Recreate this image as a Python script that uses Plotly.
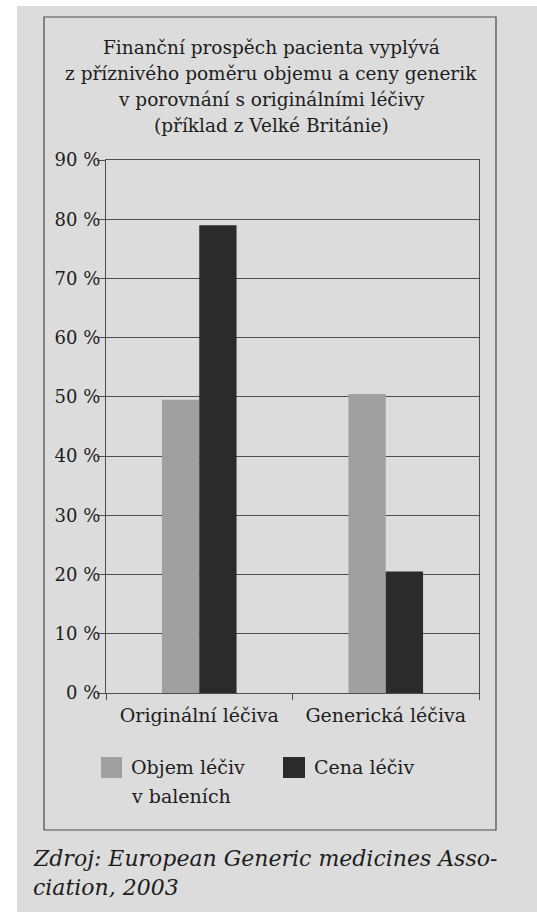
import plotly.graph_objects as go

# Data
categories = ["Originální léčiva", "Generická léčiva"]
objem = [49.5, 50.5]      # Objem léčiv v baleních (%)
cena = [79, 20.5]         # Cena léčiv (%)
y_ticks = [0, 10, 20, 30, 40, 50, 60, 70, 80, 90]
y_tick_labels = [f"{v} %" for v in y_ticks]

title_lines = [
    "Finanční prospěch pacienta vyplývá",
    "z příznivého poměru objemu a ceny generik",
    "v porovnání s originálními léčivy",
    "(příklad z Velké Británie)",
]
legend_names = [["Objem léčiv", "v baleních"], ["Cena léčiv"]]
source_lines = ["Zdroj: European Generic medicines Asso-", "ciation, 2003"]

W, H = 537, 912
PL, PR, PT, PB = 106, 479, 160, 693  # plot area in pixels

LIGHT = "#a0a0a0"
DARK = "#2b2b2b"
PAGE = "#dcdcdc"
INK = "#1c1c1c"
LINE = "#4e4e4e"
SERIF = "DejaVu Serif"


def fx(x):
    return (x - PL) / (PR - PL)


def fy(y):
    return (PB - y) / (PB - PT)


fig = go.Figure()
fig.add_trace(go.Bar(x=categories, y=objem, name="Objem léčiv v baleních",
                     marker=dict(color=LIGHT, line=dict(width=0))))
fig.add_trace(go.Bar(x=categories, y=cena, name="Cena léčiv",
                     marker=dict(color=DARK, line=dict(width=0))))

shapes = [
    # page
    dict(type="rect", xref="paper", yref="paper", x0=fx(17), x1=fx(W + 5),
         y0=fy(H + 5), y1=fy(6), fillcolor=PAGE, line=dict(width=0), layer="below"),
    # frame around the figure
    dict(type="rect", xref="paper", yref="paper", x0=fx(44), x1=fx(496),
         y0=fy(830), y1=fy(17), line=dict(color="#4a4a4a", width=1.2), layer="below"),
    # legend swatches
    dict(type="rect", xref="paper", yref="paper", x0=fx(101), x1=fx(122),
         y0=fy(778), y1=fy(757), fillcolor=LIGHT, line=dict(width=0)),
    dict(type="rect", xref="paper", yref="paper", x0=fx(283), x1=fx(305),
         y0=fy(778), y1=fy(757), fillcolor=DARK, line=dict(width=0)),
]


def text_at(s, x, y, size, xanchor="center", italic=False):
    return dict(text=f"<i>{s}</i>" if italic else s, xref="paper", yref="paper",
                x=fx(x), y=fy(y), xanchor=xanchor, yanchor="middle",
                showarrow=False, font=dict(family=SERIF, size=size, color=INK))


annotations = []
# title, one line per annotation
for line, y in zip(title_lines, [47, 73, 99, 126]):
    annotations.append(text_at(line, 271, y, 18.5))
# legend labels
for line, y in zip(legend_names[0], [767, 796]):
    annotations.append(text_at(line, 129, y, 19, xanchor="left"))
annotations.append(text_at(legend_names[1][0], 312, 767, 19, xanchor="left"))
# source note
for line, y in zip(source_lines, [858, 887]):
    annotations.append(text_at(line, 31, y, 22, xanchor="left", italic=True))

fig.update_layout(
    width=W, height=H,
    margin=dict(l=PL, r=W - PR, t=PT, b=H - PB, pad=0),
    paper_bgcolor="white",
    plot_bgcolor="rgba(0,0,0,0)",
    barmode="group",
    bargap=0.6,
    bargroupgap=0,
    showlegend=False,
    shapes=shapes,
    annotations=annotations,
    font=dict(family=SERIF, color=INK),
)
fig.update_xaxes(
    showline=True, mirror=True, linecolor=LINE, linewidth=1.3,
    ticks="outside", tickson="boundaries", ticklen=6, tickcolor=LINE,
    showgrid=False, tickangle=0, automargin=False, ticklabelstandoff=5,
    tickfont=dict(family=SERIF, size=19, color=INK),
)
fig.update_yaxes(
    range=[0, 90], tickvals=y_ticks, ticktext=y_tick_labels,
    showline=True, mirror=True, linecolor=LINE, linewidth=1.3,
    ticks="outside", ticklen=8, tickcolor=LINE, automargin=False,
    ticklabelstandoff=-7,
    showgrid=True, gridcolor=LINE, gridwidth=1.3, zeroline=False,
    tickfont=dict(family=SERIF, size=18, color=INK),
)

fig.write_html("out.html")
